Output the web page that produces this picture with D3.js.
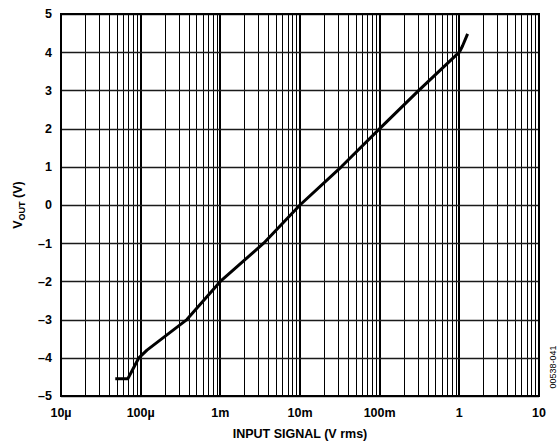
<!DOCTYPE html>
<html>
<head>
<meta charset="utf-8">
<script src="https://cdn.jsdelivr.net/npm/d3@7"></script>
<style>
  body { margin: 0; background: #fff; }
  text { font-family: "Liberation Sans", Arial, sans-serif; }
</style>
</head>
<body>
<svg id="chart" width="560" height="445"></svg>
<script>
// input signal (V rms) and output voltage
var vin  = [48e-6, 69e-6, 95e-6, 120e-6, 380e-6, 1.0e-3, 3.5e-3, 10e-3, 33e-3, 100e-3, 310e-3, 1.0, 1.1, 1.27];
var vout = [-4.55, -4.55, -4.0, -3.8, -3.0, -2.0, -1.0, 0.0, 1.0, 2.0, 3.0, 4.0, 4.17, 4.48];

var xTickVals = [1e-5, 1e-4, 1e-3, 1e-2, 1e-1, 1, 10];
var xTickText = ["10\u00b5", "100\u00b5", "1m", "10m", "100m", "1", "10"];
var yTickVals = [-5, -4, -3, -2, -1, 0, 1, 2, 3, 4, 5];

var svg = d3.select("#chart");
var margin = {top: 14, left: 61, right: 21, bottom: 49};
var width = 560 - margin.left - margin.right;
var height = 445 - margin.top - margin.bottom;

var x = d3.scaleLog().domain([1e-5, 10]).range([0, width]);
var y = d3.scaleLinear().domain([-5, 5]).range([height, 0]);

var g = svg.append("g").attr("transform", "translate(" + margin.left + "," + margin.top + ")");

// minor vertical grid, 2..9 in each decade
var minor = [];
xTickVals.slice(0, -1).forEach(function(d) {
  for (var k = 2; k <= 9; k++) minor.push(d * k);
});

g.selectAll(".vminor").data(minor).enter().append("line")
  .attr("x1", function(d) { return Math.round(x(d)) + 0.5; })
  .attr("x2", function(d) { return Math.round(x(d)) + 0.5; })
  .attr("y1", 0).attr("y2", height)
  .attr("stroke", "#000").attr("stroke-width", 1)
  .attr("shape-rendering", "crispEdges");

g.selectAll(".vmajor").data(xTickVals).enter().append("line")
  .attr("x1", function(d) { return Math.round(x(d)); })
  .attr("x2", function(d) { return Math.round(x(d)); })
  .attr("y1", 0).attr("y2", height)
  .attr("stroke", "#000").attr("stroke-width", 2)
  .attr("shape-rendering", "crispEdges");

g.selectAll(".hgrid").data(yTickVals).enter().append("line")
  .attr("x1", 0).attr("x2", width)
  .attr("y1", function(d) { return Math.round(y(d)) + 0.5; })
  .attr("y2", function(d) { return Math.round(y(d)) + 0.5; })
  .attr("stroke", "#1a1a1a").attr("stroke-width", 1.5);

// frame
g.append("rect").attr("width", width).attr("height", height)
  .attr("fill", "none").attr("stroke", "#000").attr("stroke-width", 2)
  .attr("shape-rendering", "crispEdges");

// curve
var line = d3.line()
  .x(function(d, i) { return x(vin[i]); })
  .y(function(d) { return y(d); });

g.append("path").datum(vout)
  .attr("d", line)
  .attr("fill", "none").attr("stroke", "#000").attr("stroke-width", 3)
  .attr("stroke-linejoin", "round");

// y tick labels
g.selectAll(".ylab").data(yTickVals).enter().append("text")
  .attr("x", -9).attr("y", function(d) { return y(d); })
  .attr("dy", "0.35em").attr("text-anchor", "end")
  .attr("font-size", 12.5).attr("font-weight", "bold")
  .text(function(d) { return d < 0 ? "\u2013" + Math.abs(d) : d; });

// x tick labels
g.selectAll(".xlab").data(xTickVals).enter().append("text")
  .attr("x", function(d) { return x(d); }).attr("y", height + 21)
  .attr("text-anchor", "middle")
  .attr("font-size", 12.5).attr("font-weight", "bold")
  .text(function(d, i) { return xTickText[i]; });

// axis titles
svg.append("text")
  .attr("x", margin.left + width / 2).attr("y", 438)
  .attr("text-anchor", "middle")
  .attr("font-size", 12.5).attr("font-weight", "bold")
  .text("INPUT SIGNAL (V rms)");

var yt = svg.append("text")
  .attr("transform", "translate(22," + (margin.top + height / 2) + ") rotate(-90)")
  .attr("text-anchor", "middle")
  .attr("font-size", 12.5).attr("font-weight", "bold");
yt.append("tspan").text("V");
yt.append("tspan").attr("font-size", 9).attr("dy", 3).text("OUT");
yt.append("tspan").attr("dy", -3).text(" (V)");

svg.append("text")
  .attr("transform", "translate(556,367) rotate(-90)")
  .attr("text-anchor", "middle")
  .attr("font-size", 9)
  .text("00538-041");
</script>
</body>
</html>
